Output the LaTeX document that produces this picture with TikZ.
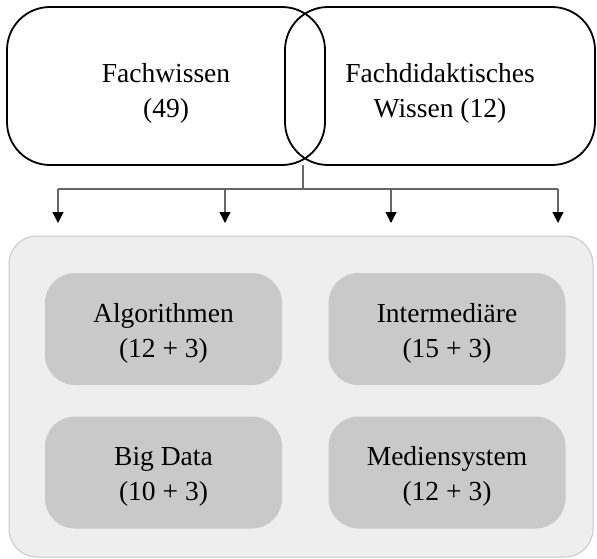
\documentclass[tikz,border=0pt]{standalone}
\usepackage{fontspec}
\setmainfont{Liberation Serif}
\usetikzlibrary{arrows.meta}

\definecolor{areafill}{HTML}{EEEEEE}
\definecolor{areaedge}{HTML}{C8C8C8}
\definecolor{topicfill}{HTML}{C9C9C9}
\definecolor{linkgray}{HTML}{666666}

\tikzstyle{knowledge} = [rectangle, rounded corners = 43pt, minimum height = 158pt,
	align = center, line width = 1.8pt, draw = black, text height = 68pt,
	font = \fontsize{27.5}{35}\selectfont]
\tikzstyle{area} = [rectangle, rounded corners = 28pt, minimum width = 584pt,
	minimum height = 321pt, fill = areafill, draw = areaedge, line width = 1pt]
\tikzstyle{topic} = [rectangle, rounded corners = 30pt, minimum width = 237pt,
	minimum height = 112pt, fill = topicfill, align = center, text height = 62pt,
	font = \fontsize{27.5}{35}\selectfont]
\tikzstyle{link} = [draw = linkgray, line width = 1.2pt]
\tikzstyle{arrow} = [link, -{Triangle[width = 11pt, length = 11pt, color = black]}]

\begin{document}
\begin{tikzpicture}[x = 1pt, y = -1pt]
\useasboundingbox (0,0) rectangle (597,558);

\node (fach) [knowledge, minimum width = 318pt] at (166,86) {Fachwissen\\(49)};
\node (didaktik) [knowledge, minimum width = 310pt] at (440,86) {Fachdidaktisches\\Wissen (12)};

\node (area) [area] at (301,396.5) {};

\node (algo) [topic] at (163.5,329) {Algorithmen\\(12 + 3)};
\node (inter) [topic] at (447,329) {Intermediäre\\(15 + 3)};
\node (bigdata) [topic] at (163.5,472.5) {Big Data\\(10 + 3)};
\node (medien) [topic] at (447,472.5) {Mediensystem\\(12 + 3)};

% fork below the overlap
\coordinate (join) at (303,165);
\coordinate (fork) at (303,189);
\foreach \x [count = \i] in {58, 225, 391, 558}
	\coordinate (t\i) at (\x,223);

\draw [link] (join) -- (fork);
\draw [link] (t1 |- fork) -- (t4 |- fork);
\foreach \i in {1,...,4}
	\draw [arrow] (t\i |- fork) -- (t\i);
\end{tikzpicture}
\end{document}
